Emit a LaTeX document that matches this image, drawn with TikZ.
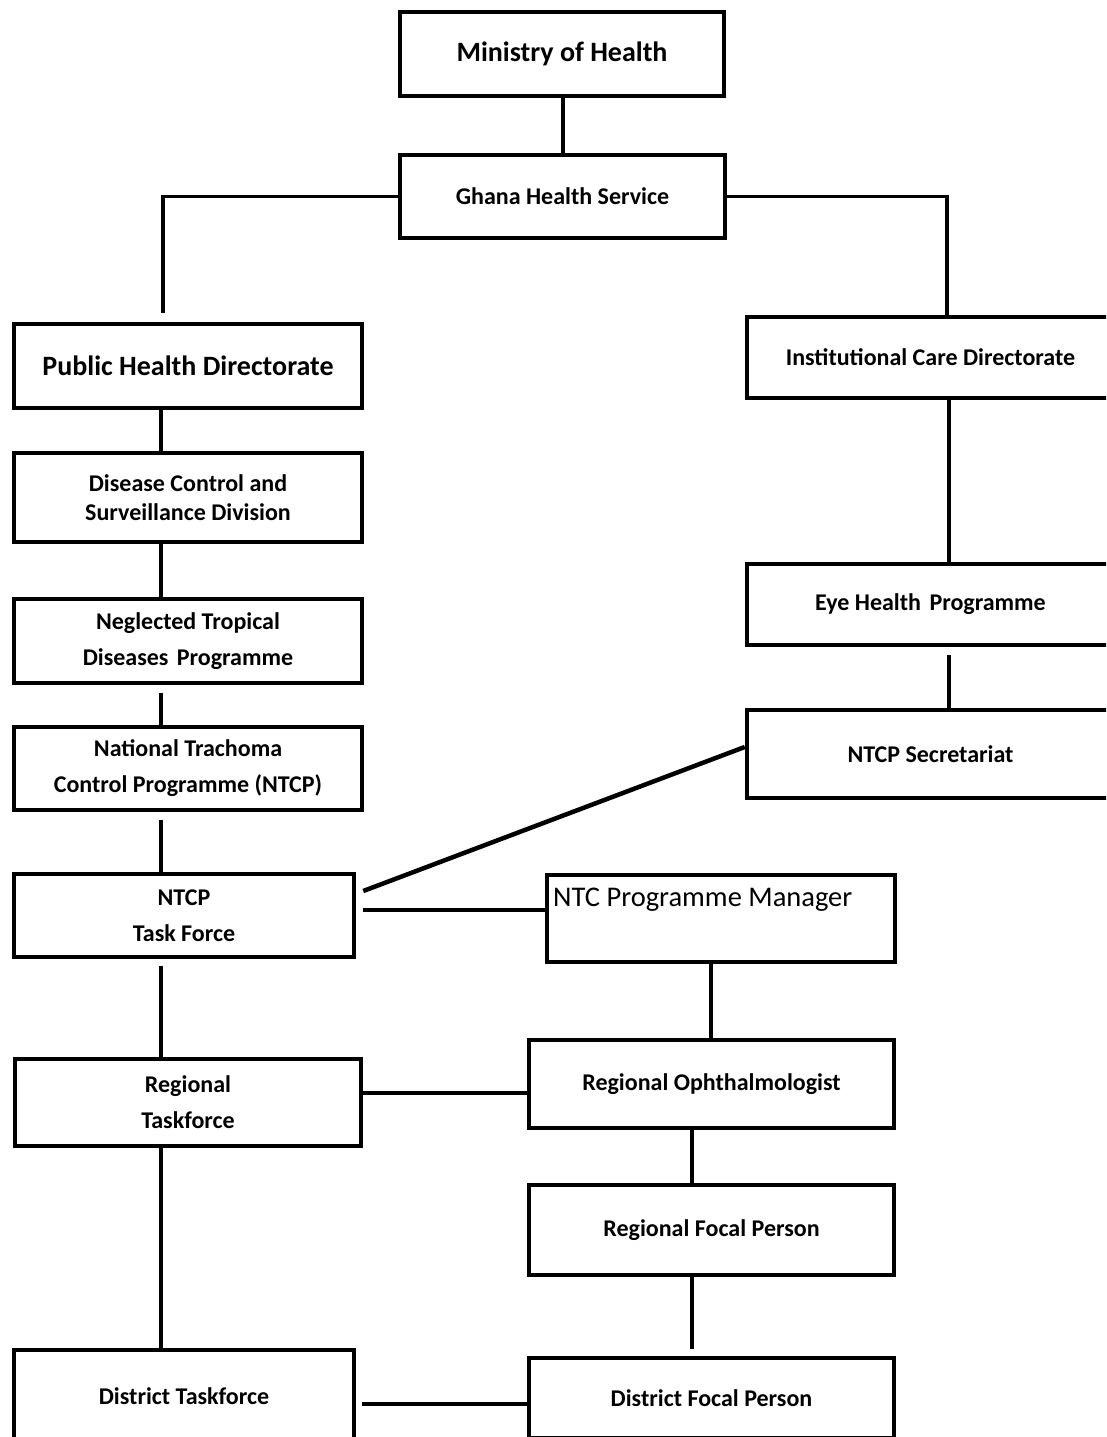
\documentclass[tikz,border=0pt]{standalone}
\usepackage{fontspec}
\setmainfont{Carlito}
\usetikzlibrary{calc}
\begin{document}
\begin{tikzpicture}[x=1pt,y=-1pt,
  box/.style={draw, line width=4.5pt, rectangle, inner sep=0pt, align=center,
    font=\bfseries\fontsize{24}{36}\selectfont},
  bigtext/.style={font=\bfseries\fontsize{28}{34}\selectfont},
  link/.style={line width=3.5pt},
  diag/.style={line width=4.5pt}]
\useasboundingbox (0,0) rectangle (1106,1437);
\fill[white] (0,0) rectangle (1106,1437);
\clip (0,0) rectangle (1106,1437);

% boxes
\node[box, bigtext, minimum width=324, minimum height=84] (moh) at (562,54) {Ministry of Health};
\node[box, minimum width=325, minimum height=83] (ghs) at (562.5,196.5) {Ghana Health Service};
\node[box, bigtext, minimum width=348, minimum height=84] (phd) at (188,366) {Public Health Directorate};
\node[box, minimum width=367, minimum height=81] (icd) at (930.5,357.5) {Institutional Care Directorate};
\node[box, minimum width=348, minimum height=89, font=\bfseries\fontsize{24}{29}\selectfont] (dcsd) at (188,497.5) {Disease Control and\\Surveillance Division};
\node[box, minimum width=367, minimum height=81] (ehp) at (930.5,604.5) {Eye Health\hspace{0.35em}Programme};
\node[box, minimum width=348, minimum height=84] (ntdp) at (188,641) {Neglected Tropical\\Diseases\hspace{0.35em}Programme};
\node[box, minimum width=367, minimum height=88] (sec) at (930.5,754) {NTCP Secretariat};
\node[box, minimum width=348, minimum height=83] (ntcp) at (188,768.5) {National Trachoma\\Control Programme (NTCP)};
\node[box, minimum width=340, minimum height=83] (tf) at (184,915.5) {NTCP\\Task Force};
\node[box, minimum width=348, minimum height=87] (pm) at (721,918.5) {};
\node[anchor=base west, inner sep=0pt, font=\fontsize{28.5}{34}\selectfont] (pmt) at (553,906) {NTC Programme Manager};
\node[box, minimum width=346, minimum height=87] (rt) at (188,1102.5) {Regional\\Taskforce};
\node[box, minimum width=365, minimum height=88] (ro) at (711.5,1084) {Regional Ophthalmologist};
\node[box, minimum width=365, minimum height=90] (rfp) at (711.5,1230) {Regional Focal Person};
\node[box, minimum width=340, minimum height=92] (dt) at (184,1396) {District Taskforce};
\node[box, minimum width=365, minimum height=80] (dfp) at (711.5,1398) {District Focal Person};

% reference coordinates for connector positions
\coordinate (xm) at (563,0);
\coordinate (xa) at (163,0);
\coordinate (xb) at (947,0);
\coordinate (xc) at (949,0);
\coordinate (xl) at (161,0);
\coordinate (xr) at (711,0);
\coordinate (xs) at (692,0);
\coordinate (ys) at (0,747);
\coordinate (yt) at (0,891);
\coordinate (y1) at (0,910);
\coordinate (y2) at (0,1093);
\coordinate (y3) at (0,1404);

% connectors
\draw[link] (moh.south -| xm) -- (ghs.north -| xm);
\draw[link] (ghs.west) -| ($(phd.north -| xa)+(0,-9)$);
\draw[link] (ghs.east) -| (icd.north -| xb);
\draw[link] (icd.south -| xc) -- (ehp.north -| xc);
\draw[link] ($(ehp.south -| xc)+(0,8)$) -- (sec.north -| xc);
\draw[link] (phd.south -| xl) -- (dcsd.north -| xl);
\draw[link] (dcsd.south -| xl) -- (ntdp.north -| xl);
\draw[link] ($(ntdp.south -| xl)+(0,8)$) -- (ntcp.north -| xl);
\draw[link] ($(ntcp.south -| xl)+(0,8)$) -- (tf.north -| xl);
\draw[link] ($(tf.south -| xl)+(0,7)$) -- (rt.north -| xl);
\draw[link] (rt.south -| xl) -- (dt.north -| xl);
\draw[diag] (sec.west |- ys) -- ($(tf.east |- yt)+(7,0)$);
\draw[link] ($(tf.east |- y1)+(7,0)$) -- (pm.west |- y1);
\draw[link] (pm.south -| xr) -- (ro.north -| xr);
\draw[link] (rt.east |- y2) -- (ro.west |- y2);
\draw[link] (ro.south -| xs) -- (rfp.north -| xs);
\draw[link] (rfp.south -| xs) -- ($(dfp.north -| xs)+(0,-7)$);
\draw[link] ($(dt.east |- y3)+(6,0)$) -- (dfp.west |- y3);
\end{tikzpicture}
\end{document}
